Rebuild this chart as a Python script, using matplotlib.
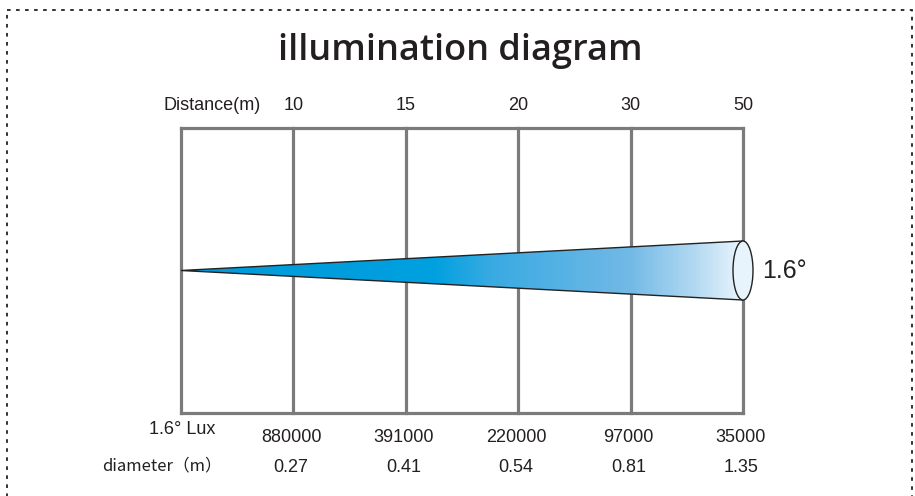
import numpy as np
import matplotlib
matplotlib.use("Agg")
import matplotlib.pyplot as plt
from matplotlib.patches import Polygon, Ellipse, Rectangle
from matplotlib.colors import LinearSegmentedColormap

# data
distances = ["10", "15", "20", "30", "50"]
lux = ["880000", "391000", "220000", "97000", "35000"]
diameters = ["0.27", "0.41", "0.54", "0.81", "1.35"]
beam_angle = "1.6°"

fig = plt.figure(figsize=(9.15, 4.96), dpi=100)
ax = fig.add_axes([0, 0, 1, 1])
# x: column index (0 = lamp, 1..5 = distances), y: pixel rows
step = (743 - 181) / 5.0
ax.set_xlim(-181 / step, 5 + (915 - 743) / step)
ax.set_ylim(496, 0)
ax.axis("off")

ncol = len(distances)
top, bottom = 128, 413
grey = "#7b7b7b"

# grid
for i in range(ncol + 1):
    ax.plot([i, i], [top, bottom], color=grey, lw=2.3, solid_capstyle="projecting", zorder=1)
ax.plot([0, ncol], [top, top], color=grey, lw=2.3, solid_capstyle="projecting", zorder=1)
ax.plot([0, ncol], [bottom, bottom], color=grey, lw=2.3, solid_capstyle="projecting", zorder=1)

# beam cone with gradient
cy, half = 270.5, 29.5
cmap = LinearSegmentedColormap.from_list("beam", [
    (0.0, "#009ad9"), (0.45, "#00a0e0"), (0.55, "#38aae2"),
    (0.8, "#72b9e6"), (0.92, "#b4daf2"), (1.0, "#eaf5fc")])
grad = np.linspace(0, 1, 400).reshape(1, -1)
cone = Polygon([[0, cy], [ncol, cy - half], [ncol, cy + half]], closed=True,
               facecolor="none", edgecolor="#222222", lw=1.0, zorder=3)
ax.add_patch(cone)
im = ax.imshow(grad, cmap=cmap, extent=[0, ncol, cy + half, cy - half],
               aspect="auto", zorder=2, interpolation="bilinear")
im.set_clip_path(cone)
ax.add_patch(Ellipse((ncol, cy), 20 / step, 2 * half, facecolor="#e8f4fc",
                     edgecolor="#222222", lw=1.0, zorder=4))
ax.text(ncol + 0.17, cy + 1, beam_angle, fontsize=18, family="Liberation Sans",
        ha="left", va="center", color="#222222")

# border
ax.add_patch(Rectangle((-174 / step, 10), (905) / step, 600, fill=False,
                       edgecolor="#222222", lw=1.3, linestyle=(0, (2, 3)), clip_on=True))

# title
ax.text(460 / step - 181 / step, 51, "illumination diagram", fontsize=26,
        family="Open Sans", weight="semibold", ha="center", va="center", color="#231f20")

font = dict(family="Liberation Sans", fontsize=13, color="#231f20")
ax.text(0.28, 105, "Distance(m)", ha="center", va="center", **font)
for i, d in enumerate(distances):
    ax.text(i + 1, 105, d, ha="center", va="center", **font)

ax.text(0.31, 430, "1.6° Lux", ha="right", va="center", **font)
ax.text(0.36, 466, "diameter\uff08m\uff09", ha="right", va="center",
        family=["Noto Sans CJK SC", "Liberation Sans"], fontsize=12, color="#231f20")
for i, v in enumerate(lux):
    ax.text(i + 1 - 0.02, 437, v, ha="center", va="center", **font)
for i, v in enumerate(diameters):
    ax.text(i + 1 - 0.02, 467, v, ha="center", va="center", **font)

fig.savefig("out.png", dpi=100)
